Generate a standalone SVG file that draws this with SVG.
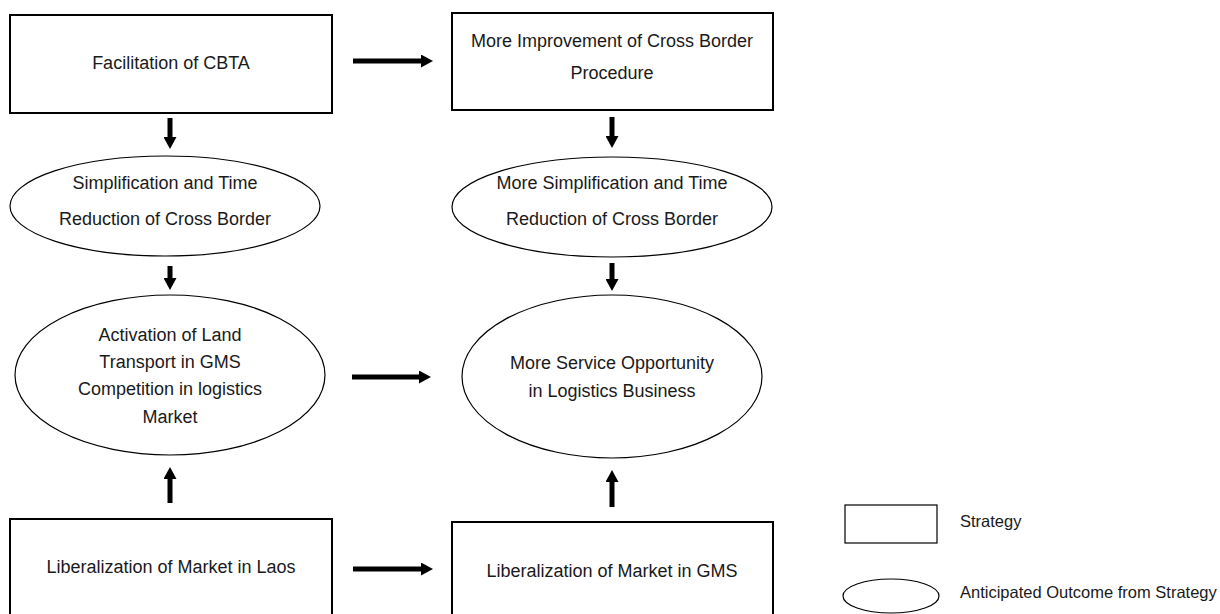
<svg xmlns="http://www.w3.org/2000/svg" width="1220" height="614" viewBox="0 0 1220 614">
  <defs>
    <style>
      .strategy { fill: #ffffff; stroke: #000000; stroke-width: 2; }
      .outcome { fill: #ffffff; stroke: #000000; stroke-width: 1.2; }
      .legend-box { fill: #ffffff; stroke: #000000; stroke-width: 1.2; }
      .label { font-family: "Liberation Sans", Arial, sans-serif; font-size: 18px; fill: #1a1a1a; text-anchor: middle; }
      .legend-label { font-family: "Liberation Sans", Arial, sans-serif; font-size: 16.5px; fill: #1a1a1a; }
      .arrow { stroke: #000000; stroke-width: 5; fill: none; marker-end: url(#head); }
    </style>
    <marker id="head" markerUnits="userSpaceOnUse" markerWidth="13" markerHeight="13" refX="0" refY="6.5" orient="auto">
      <path d="M0,0 L12,6.5 L0,13 Z" fill="#000000"/>
    </marker>
  </defs>
  <rect width="1220" height="614" fill="#ffffff"/>

  <!-- connectors -->
  <g id="connectors">
    <line class="arrow" x1="353" y1="61" x2="421" y2="61"/>
    <line class="arrow" x1="352" y1="377" x2="419" y2="377"/>
    <line class="arrow" x1="353" y1="569" x2="421" y2="569"/>
    <line class="arrow" x1="170" y1="118" x2="170" y2="137"/>
    <line class="arrow" x1="170" y1="266" x2="170" y2="278"/>
    <line class="arrow" x1="612" y1="117" x2="612" y2="136"/>
    <line class="arrow" x1="612" y1="263" x2="612" y2="279"/>
    <line class="arrow" x1="170" y1="503" x2="170" y2="479"/>
    <line class="arrow" x1="612" y1="507" x2="612" y2="482"/>
  </g>

  <!-- strategies -->
  <g id="facilitation-cbta">
    <rect class="strategy" x="10" y="15" width="322" height="98"/>
    <text class="label" x="171" y="69">Facilitation of CBTA</text>
  </g>
  <g id="improvement-cross-border">
    <rect class="strategy" x="452" y="13" width="321" height="97"/>
    <text class="label" x="612" y="47">More Improvement of Cross Border</text>
    <text class="label" x="612" y="79">Procedure</text>
  </g>
  <g id="liberalization-laos">
    <rect class="strategy" x="10" y="519" width="322" height="110"/>
    <text class="label" x="171" y="573">Liberalization of Market in Laos</text>
  </g>
  <g id="liberalization-gms">
    <rect class="strategy" x="452" y="522" width="321" height="110"/>
    <text class="label" x="612" y="577">Liberalization of Market in GMS</text>
  </g>

  <!-- outcomes -->
  <g id="simplification">
    <ellipse class="outcome" cx="165" cy="206" rx="155" ry="50"/>
    <text class="label" x="165" y="189">Simplification and Time</text>
    <text class="label" x="165" y="225">Reduction of Cross Border</text>
  </g>
  <g id="more-simplification">
    <ellipse class="outcome" cx="612" cy="207" rx="160" ry="50"/>
    <text class="label" x="612" y="189">More Simplification and Time</text>
    <text class="label" x="612" y="225">Reduction of Cross Border</text>
  </g>
  <g id="activation-land-transport">
    <ellipse class="outcome" cx="170" cy="375" rx="155" ry="80"/>
    <text class="label" x="170" y="341">Activation of Land</text>
    <text class="label" x="170" y="368">Transport in GMS</text>
    <text class="label" x="170" y="395">Competition in logistics</text>
    <text class="label" x="170" y="423">Market</text>
  </g>
  <g id="service-opportunity">
    <ellipse class="outcome" cx="612" cy="376.5" rx="150" ry="81.5"/>
    <text class="label" x="612" y="369">More Service Opportunity</text>
    <text class="label" x="612" y="397">in Logistics Business</text>
  </g>

  <!-- legend -->
  <g id="legend">
    <rect class="legend-box" x="845" y="505" width="92" height="38"/>
    <text class="legend-label" x="960" y="527">Strategy</text>
    <ellipse class="outcome" cx="891" cy="596" rx="48" ry="17"/>
    <text class="legend-label" x="960" y="598">Anticipated Outcome from Strategy</text>
  </g>
</svg>
